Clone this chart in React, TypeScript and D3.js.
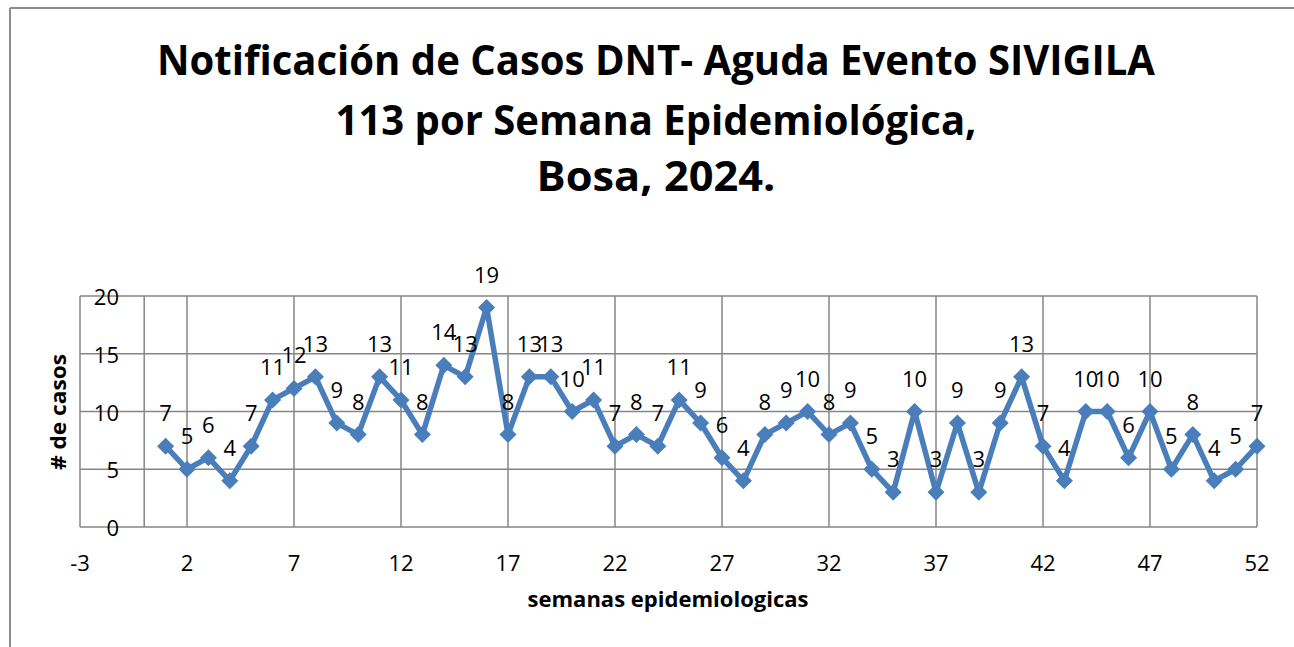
import React from 'react';
import * as d3 from 'd3';

// semanas 1..52
const weeks = d3.range(1, 53);
const casos = [
  7, 5, 6, 4, 7, 11, 12, 13, 9, 8,
  13, 11, 8, 14, 13, 19, 8, 13, 13, 10,
  11, 7, 8, 7, 11, 9, 6, 4, 8, 9,
  10, 8, 9, 5, 3, 10, 3, 9, 3, 9,
  13, 7, 4, 10, 10, 6, 10, 5, 8, 4,
  5, 7,
];
const xTicks = [-3, 2, 7, 12, 17, 22, 27, 32, 37, 42, 47, 52];
const yTicks = [0, 5, 10, 15, 20];
const titleLines = [
  'Notificación de Casos DNT- Aguda Evento SIVIGILA',
  '113 por Semana Epidemiológica,',
  'Bosa, 2024.',
];

const W = 1294;
const H = 647;
const FONT = '"Open Sans", "Liberation Sans", sans-serif';
const BLUE = '#4a7ebb';
const GRID = '#868686';

export default function App() {
  const x = d3.scaleLinear().domain([-3, 52]).range([80, 1257]);
  const y = d3.scaleLinear().domain([0, 20]).range([527, 296]);

  const pts = weeks.map((w, i) => ({ w, v: casos[i] }));
  const line = d3
    .line<{ w: number; v: number }>()
    .x((d) => x(d.w))
    .y((d) => y(d.v));
  const diamond = d3.symbol().type(d3.symbolDiamond2).size(185)()!;

  // title widths
  const titleW = [998, 641, 239];
  const titleY = [75, 135, 191];

  return (
    <svg
      width={W}
      height={H}
      style={{ position: 'absolute', left: 0, top: 0, background: '#fff' }}
      fontFamily={FONT}
    >
      <rect x={0} y={0} width={W} height={H} fill="#fff" />
      {/* outer frame */}
      <line x1={10} y1={8} x2={W} y2={8} stroke="#8c8c8c" strokeWidth={2} />
      <line x1={10} y1={8} x2={10} y2={H} stroke="#8c8c8c" strokeWidth={2} />

      {titleLines.map((t, i) => (
        <text
          key={t}
          x={656}
          y={titleY[i]}
          textAnchor="middle"
          fontWeight="bold"
          fontSize={41}
          textLength={titleW[i]}
          lengthAdjust="spacingAndGlyphs"
        >
          {t}
        </text>
      ))}

      {/* grid */}
      {yTicks.map((t) => (
        <line key={'h' + t} x1={x(-3)} x2={x(52)} y1={y(t)} y2={y(t)} stroke={GRID} strokeWidth={1.5} />
      ))}
      {xTicks.map((t) => (
        <line key={'v' + t} x1={x(t)} x2={x(t)} y1={y(0)} y2={y(20)} stroke={GRID} strokeWidth={1.5} />
      ))}
      <line x1={x(0)} x2={x(0)} y1={y(0)} y2={y(20)} stroke={GRID} strokeWidth={1.5} />

      {yTicks.map((t) => (
        <text key={'yl' + t} x={119} y={y(t)} textAnchor="end" dominantBaseline="central" fontSize={22}>
          {t}
        </text>
      ))}
      {xTicks.map((t) => (
        <text key={'xl' + t} x={x(t)} y={562} textAnchor="middle" dominantBaseline="central" fontSize={22}>
          {t}
        </text>
      ))}

      <path d={line(pts)!} fill="none" stroke={BLUE} strokeWidth={5.5} strokeLinejoin="round" />
      {pts.map((d) => (
        <path key={'m' + d.w} d={diamond} transform={`translate(${x(d.w)},${y(d.v)})`} fill={BLUE} />
      ))}
      {pts.map((d) => (
        <text
          key={'l' + d.w}
          x={x(d.w)}
          y={y(d.v) - 34}
          textAnchor="middle"
          dominantBaseline="central"
          fontSize={22}
        >
          {d.v}
        </text>
      ))}

      <text
        x={668}
        y={607}
        textAnchor="middle"
        fontWeight="bold"
        fontSize={21}
        textLength={281}
        lengthAdjust="spacingAndGlyphs"
      >
        semanas epidemiologicas
      </text>
      <text
        transform="translate(66,412) rotate(-90)"
        textAnchor="middle"
        fontWeight="bold"
        fontSize={21}
        textLength={116}
        lengthAdjust="spacingAndGlyphs"
      >
        # de casos
      </text>
    </svg>
  );
}
